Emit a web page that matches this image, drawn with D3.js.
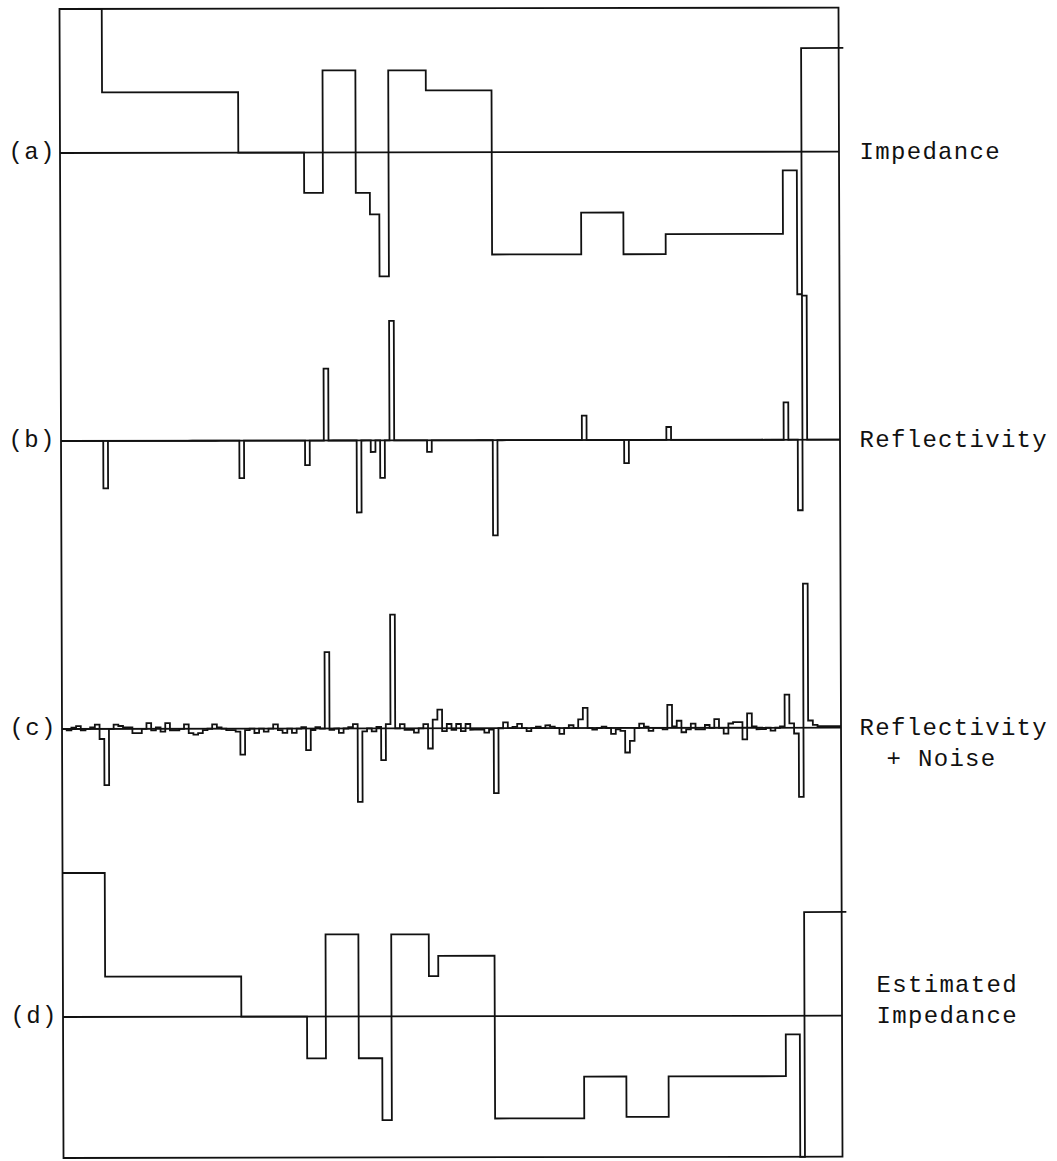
<!DOCTYPE html>
<html>
<head>
<meta charset="utf-8">
<title>Impedance, reflectivity and estimated impedance</title>
<script src="https://cdnjs.cloudflare.com/ajax/libs/d3/7.8.5/d3.min.js"></script>
<style>
  html, body { margin: 0; padding: 0; background: #fff; }
  svg { display: block; }
  .trace { fill: none; stroke: #111; stroke-width: 1.8; stroke-linejoin: miter; }
  .label { font-family: 'Liberation Mono', 'DejaVu Sans Mono', monospace; font-size: 24px; fill: #111; }
</style>
</head>
<body>
<div id="chart"></div>
<script>
// sample index where the true impedance changes, and the level of each layer
const impedanceBreaks = [0, 9, 38, 52, 56, 63, 66, 68, 70, 78, 92, 111, 120, 129, 154, 157, 158, 167];
const impedanceValues = [100, 42, 0, -28, 57, -28, -43, -86, 57, 43, -71, -42, -71, -57, -13, -99, 72];

// reflection coefficients (one sample each)
const spikeSamples = [9, 38, 52, 56, 63, 66, 68, 70, 78, 92, 111, 120, 129, 154, 157, 158];
const spikeValues = [-33, -26, -17, 50, -50, -8, -26, 83, -8, -66, 17, -16, 9, 26, -49, 100];

// reflectivity + noise, samples 0..165
const noisyValues = [
  0, -1, 1, 2, -1, 0, 1, 3, -7, -39,
  0, 3, 2, 1, 1, -3, -3, 0, 4, -1,
  1, -2, 4, -1, -1, 0, 3, -3, -4, -3,
  -1, 0, 3, 1, 0, -1, -1, -2, -18, -1,
  0, -3, 0, -2, 0, 3, -1, -3, 0, -3,
  0, 1, -15, -1, 1, 0, 53, -1, 0, -3,
  0, 1, 3, -51, -2, 0, -2, 1, -22, 3,
  79, 0, 3, -1, -1, -3, 0, 3, -14, 6,
  13, -2, 3, -1, 3, -2, 3, -1, -1, -1,
  -3, -1, -45, 0, 4, 0, 1, 3, 0, -2,
  0, 1, 0, 2, 1, 0, -4, 0, 2, 0,
  6, 14, 0, -1, 0, 1, 0, -4, -1, -2,
  -17, -9, 0, 3, 1, -2, 0, 0, -1, 16,
  1, 5, -3, -1, 3, -1, -1, 2, 0, 6,
  0, -4, 3, 4, 4, -8, 10, 1, -1, -1,
  0, -2, 0, 1, 23, 3, -4, -48, 100, 5,
  2, 1, 1, 1, 1, 1
];

// estimated impedance recovered from the noisy trace
const estimatedBreaks = [0, 9, 38, 52, 56, 63, 68, 70, 78, 80, 92, 111, 120, 129, 154, 157, 158, 167];
const estimatedValues = [100, 28, 0, -29, 57, -29, -72, 57, 28, 42, -71, -42, -70, -42, -13, -98, 72];

const panelLabels = ['(a)', '(b)', '(c)', '(d)'];
const panelTitles = [['Impedance'], ['Reflectivity'], ['Reflectivity', '+ Noise'], ['Estimated', 'Impedance']];

const width = 1057, height = 1161;
const frameW = 779, frameH = 1149, panelH = 288;
const cell = 15.7;

const svg = d3.select('#chart').append('svg')
    .attr('width', width)
    .attr('height', height);

// the scanned plot is slightly skewed
const plot = svg.append('g')
    .attr('transform', 'translate(59.5,9) skewX(0.2) skewY(-0.1)');

const x = d3.scaleLinear().domain([0, 166]).range([0, frameW]);

const yFor = (i) => {
    const base = panelH / 2 + i * panelH;
    return d3.scaleLinear().domain([-100, 100]).range([base + 144, base - 144]);
};

const line = d3.line().x(d => x(d[0]));

function stepPoints(breaks, values) {
    const pts = [];
    values.forEach((v, j) => {
        pts.push([breaks[j], v]);
        pts.push([breaks[j + 1], v]);
    });
    return pts;
}

function samplePoints(series) {
    const pts = [];
    series.forEach((v, k) => {
        pts.push([k, v]);
        pts.push([k + 1, v]);
    });
    return pts;
}

const reflectivity = d3.range(166).map(k => {
    const j = spikeSamples.indexOf(k);
    return j < 0 ? 0 : spikeValues[j];
});

const panels = [
    stepPoints(impedanceBreaks, impedanceValues),
    samplePoints(reflectivity),
    samplePoints(noisyValues),
    stepPoints(estimatedBreaks, estimatedValues)
];

// frame
plot.append('rect')
    .attr('class', 'trace')
    .attr('x', 0).attr('y', 0)
    .attr('width', frameW).attr('height', frameH);

panels.forEach((pts, i) => {
    const y = yFor(i);
    plot.append('line')
        .attr('class', 'trace')
        .attr('x1', x(0)).attr('x2', x(166))
        .attr('y1', y(0)).attr('y2', y(0));
    plot.append('path')
        .attr('class', 'trace')
        .attr('d', line.y(d => y(d[1]))(pts));
});

// typewriter style text: every character centred in a fixed cell
function typeLine(str, x0, yPos) {
    const t = svg.append('text').attr('class', 'label').attr('y', yPos);
    const xs = [];
    for (let i = 0; i < str.length; i++) {
        t.text(str[i]);
        const w = t.node().getComputedTextLength();
        xs.push((x0 + i * cell + (cell - w) / 2).toFixed(1));
    }
    t.text(str).attr('x', xs.join(' '));
}

const leftX = [8, 8, 9, 10];
panelLabels.forEach((lab, i) => typeLine(lab, leftX[i], 153 + i * panelH + 6));

const titleX = [[859], [859], [859, 886], [876, 876]];
const titleY = [[159], [447], [735, 766], [992, 1023]];
panelTitles.forEach((lines, i) => {
    lines.forEach((s, j) => typeLine(s, titleX[i][j], titleY[i][j]));
});
</script>
</body>
</html>
